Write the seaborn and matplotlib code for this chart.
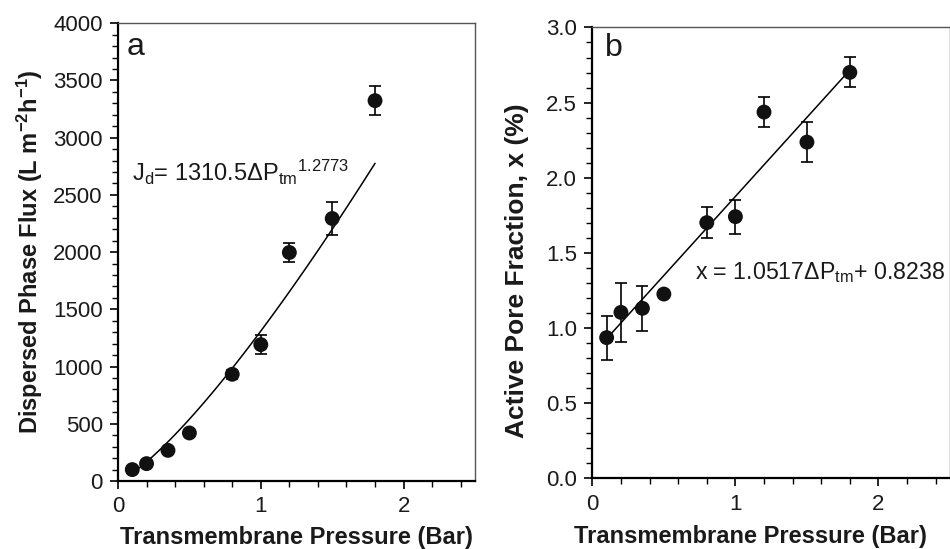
import numpy as np
import pandas as pd
import matplotlib
matplotlib.use("Agg")
import matplotlib.pyplot as plt
import seaborn as sns
from matplotlib.ticker import MultipleLocator

sns.set_theme(style="ticks")
plt.rcParams['font.family'] = ['Liberation Sans', 'DejaVu Sans']
plt.rcParams['mathtext.fontset'] = 'custom'
plt.rcParams['mathtext.rm'] = 'Liberation Sans'
plt.rcParams['mathtext.it'] = 'Liberation Sans'
plt.rcParams['mathtext.bf'] = 'Liberation Sans:bold'

# Data
pressure = [0.1, 0.2, 0.35, 0.5, 0.8, 1.0, 1.2, 1.5, 1.8]
flux = [100, 152, 268, 420, 933, 1192, 1997, 2294, 3324]
flux_err = [0, 0, 0, 0, 40, 83, 86, 140, 124]
fraction = [0.936, 1.104, 1.131, 1.226, 1.701, 1.741, 2.437, 2.237, 2.701]
fraction_err = [0.147, 0.196, 0.15, 0, 0.104, 0.114, 0.102, 0.133, 0.10]

# Fit parameters (from chart annotations)
flux_coef, flux_exp = 1310.5, 1.2773
frac_slope, frac_icpt = 1.0517, 0.8238

df = pd.DataFrame({"p": pressure, "flux": flux, "flux_err": flux_err,
                   "frac": fraction, "frac_err": fraction_err})

fig = plt.figure(figsize=(9.5, 5.49), dpi=100)
axA = fig.add_axes([0.1242, 0.1238, 0.3758, 0.8338])
axB = fig.add_axes([0.6235, 0.1288, 0.3765, 0.8212])

p_fit = np.linspace(0.1, 1.8, 100)
fitA = pd.DataFrame({"p": p_fit, "y": flux_coef * p_fit ** flux_exp})
fitB = pd.DataFrame({"p": [0.1, 1.8], "y": [frac_slope * 0.1 + frac_icpt, frac_slope * 1.8 + frac_icpt]})

TXT = '#1a1a1a'

def style(ax, ymax, ymaj, ymin):
    ax.set_xlim(0, 2.5)
    ax.set_ylim(0, ymax)
    ax.xaxis.set_major_locator(MultipleLocator(1))
    ax.xaxis.set_minor_locator(MultipleLocator(0.2))
    ax.yaxis.set_major_locator(MultipleLocator(ymaj))
    ax.yaxis.set_minor_locator(MultipleLocator(ymin))
    ax.tick_params(axis='both', which='major', direction='out', length=6, width=1.2,
                   labelsize=16, color='black', labelcolor=TXT, pad=5, top=False, right=False)
    ax.tick_params(axis='both', which='minor', direction='out', length=4, width=1.0,
                   color='black', top=False, right=False)
    for s in ['left', 'bottom']:
        ax.spines[s].set_linewidth(1.6)
        ax.spines[s].set_color('black')
    for s in ['top', 'right']:
        ax.spines[s].set_linewidth(1.0)
        ax.spines[s].set_color('#555555')
    ax.set_xlabel("Transmembrane Pressure (Bar)", fontsize=17, fontweight='bold',
                  labelpad=6, color=TXT)
    ax.grid(False)

# Panel a
sns.lineplot(data=fitA, x="p", y="y", ax=axA, color='black', linewidth=1.1, zorder=2)
axA.errorbar(df["p"], df["flux"], yerr=df["flux_err"], fmt='none', ecolor='black',
             elinewidth=1.2, capsize=4, capthick=1.2, zorder=3)
sns.scatterplot(data=df, x="p", y="flux", ax=axA, color='#111111', s=115,
                edgecolor='none', zorder=4)
style(axA, 4000, 500, 100)
axA.set_ylabel("Dispersed Phase Flux (L m$^{\\mathbf{-2}}$h$^{\\mathbf{-1}}$)",
               fontsize=17, fontweight='bold', labelpad=6, color=TXT)
axA.text(0.06, 3790, "a", fontsize=23, va='center', ha='left', color=TXT)
axA.text(0.1, 2700, "J$_\\mathrm{d}$= 1310.5ΔP$_\\mathrm{tm}$$^\\mathrm{1.2773}$",
         fontsize=17, va='center', ha='left', color=TXT)

# Panel b
sns.lineplot(data=fitB, x="p", y="y", ax=axB, color='black', linewidth=1.1, zorder=2)
axB.errorbar(df["p"], df["frac"], yerr=df["frac_err"], fmt='none', ecolor='black',
             elinewidth=1.2, capsize=4, capthick=1.2, zorder=3)
sns.scatterplot(data=df, x="p", y="frac", ax=axB, color='#111111', s=115,
                edgecolor='none', zorder=4)
style(axB, 3.0, 0.5, 0.1)
axB.yaxis.set_major_formatter(matplotlib.ticker.FormatStrFormatter('%.1f'))
axB.set_ylabel("Active Pore Fraction, x (%)", fontsize=19, fontweight='bold', color=TXT)
axB.yaxis.set_label_coords(-0.178, 0.46)
axB.xaxis.set_label_coords(0.441, -0.103)
axB.text(0.09, 2.86, "b", fontsize=23, va='center', ha='left', color=TXT)
axB.text(0.72, 1.37, "x = 1.0517ΔP$_\\mathrm{tm}$+ 0.8238",
         fontsize=16.7, va='center', ha='left', color=TXT)

fig.savefig("out.png", dpi=100)
